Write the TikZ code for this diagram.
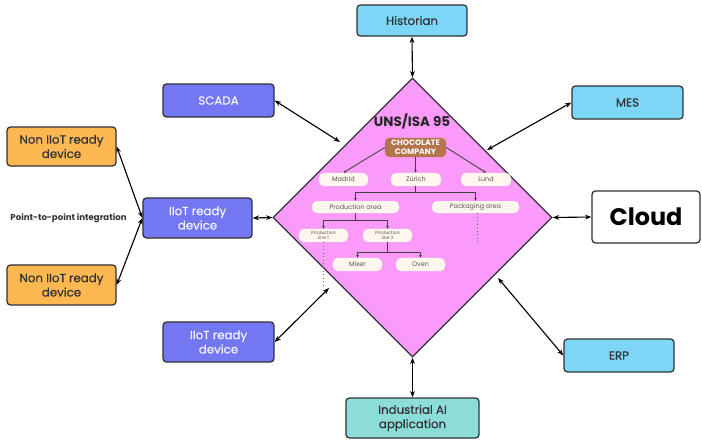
\documentclass[tikz,border=0pt]{standalone}
\usepackage{fontspec}
\setmainfont{Poppins}
\newfontfamily\boxfont{Poppins}[FakeBold=0.35]
\usetikzlibrary{shapes.geometric,arrows.meta}

\definecolor{unspink}{RGB}{250,155,250}
\definecolor{deepblue}{RGB}{115,120,242}
\definecolor{skyblue}{RGB}{125,214,245}
\definecolor{amber}{RGB}{253,184,82}
\definecolor{teal}{RGB}{140,221,216}
\definecolor{cocoa}{RGB}{181,117,76}
\definecolor{cream}{RGB}{255,247,237}
\definecolor{inkgrey}{RGB}{50,50,55}
\definecolor{treetext}{RGB}{85,85,90}

\tikzset{
  sysbox/.style={draw=inkgrey, line width=0.9pt, rounded corners=2.5pt, inner sep=1pt,
    align=center, font=\boxfont\fontsize{8.4}{10.2}\selectfont},
  bluebox/.style={sysbox, fill=deepblue, text=white!92!deepblue},
  lightbox/.style={sysbox, fill=skyblue, text=inkgrey},
  orangebox/.style={sysbox, fill=amber, text=inkgrey},
  tealbox/.style={sysbox, fill=teal, text=inkgrey},
  link/.style={line width=0.8pt, black, {Stealth[length=4.5pt,width=3.4pt]}-{Stealth[length=4.5pt,width=3.4pt]}},
  pill/.style={fill=cream, rounded corners=3.5pt, inner sep=0pt, align=center,
    text=treetext, font=\fontsize{4.6}{5}\selectfont},
  tinypill/.style={pill, font=\fontsize{3.2}{3.6}\selectfont},
  branch/.style={line width=0.6pt, black!75, -{Stealth[length=2pt,width=2pt]}},
  trail/.style={line width=0.5pt, black!60, dotted}
}

\begin{document}
\begin{tikzpicture}[x=0.025cm, y=-0.025cm]
\useasboundingbox (0,0) rectangle (702,440);

% central namespace diamond
\node[diamond, draw=inkgrey, line width=0.9pt, fill=unspink, inner sep=0pt,
      minimum width=6.975cm, minimum height=6.975cm, aspect=1] (uns) at (412.5,217.5) {};

% surrounding systems
\node[lightbox, minimum width=2.75cm, minimum height=0.775cm] (historian) at (412,20.5) {Historian};
\node[bluebox, minimum width=2.775cm, minimum height=0.825cm] (scada) at (218.5,100.5) {SCADA};
\node[lightbox, minimum width=2.775cm, minimum height=0.825cm] (mes) at (627.5,102.5) {MES};
\node[sysbox, fill=white, text=black, minimum width=2.7cm, minimum height=1.3cm,
      font=\fontsize{17}{19}\selectfont\bfseries] (cloud) at (646,217) {Cloud};
\node[orangebox, minimum width=2.725cm, minimum height=0.975cm] (nontop) at (61.5,146.5) {Non IIoT ready\\device};
\node[bluebox, minimum width=2.725cm, minimum height=1.0cm] (iiotmid) at (197.5,218) {IIoT ready\\device};
\node[orangebox, minimum width=2.725cm, minimum height=1.0cm] (nonbot) at (61.5,285) {Non IIoT ready\\device};
\node[bluebox, minimum width=2.775cm, minimum height=1.0cm] (iiotbot) at (218.5,342) {IIoT ready\\device};
\node[tealbox, minimum width=3.325cm, minimum height=1.0cm] (ai) at (412.5,418) {Industrial AI\\application};
\node[lightbox, minimum width=2.75cm, minimum height=0.825cm] (erp) at (619,355.5) {ERP};

\node[text=inkgrey, font=\fontsize{6.1}{7}\selectfont\bfseries, inner sep=0pt] (p2p) at (68.5,218) {Point-to-point integration};

% free ends of the diagonal links, just off the diamond edges
\coordinate (scadaend) at (340,142);
\coordinate (mesend) at (487,150);
\coordinate (erpend) at (498,278);
\coordinate (iiotend) at (329,288);

% links
\draw[link] (historian.south) -- (uns.north);
\draw[link] (ai.north) -- (uns.south);
\draw[link] (uns.east) -- (cloud.west);
\draw[link] (iiotmid.east) -- (uns.west);
\draw[link] (scada.east) -- (scadaend);
\draw[link] (mes.west) -- (mesend);
\draw[link] (erp.west) -- (erpend);
\draw[link] (iiotbot.east) -- (iiotend);
\draw[link] (nontop.east) -- (iiotmid.west);
\draw[link] (nonbot.east) -- (iiotmid.west);

% ISA-95 hierarchy inside the diamond
\node[font=\fontsize{9.6}{11}\selectfont\bfseries, text=black!85, inner sep=0pt] (title) at (412,121) {UNS/ISA 95};
\node[fill=cocoa, rounded corners=3pt, inner sep=0pt, minimum width=1.525cm, minimum height=0.475cm,
      text=white, align=center, font=\fontsize{5.6}{6.2}\selectfont\bfseries] (company) at (415.5,147.5) {CHOCOLATE\\COMPANY};

\node[pill, minimum width=1.225cm, minimum height=0.33cm] (madrid) at (343.5,179.5) {Madrid};
\node[pill, minimum width=1.25cm, minimum height=0.33cm] (zurich) at (416,179.5) {Zürich};
\node[pill, minimum width=1.25cm, minimum height=0.33cm] (lund) at (486,179.5) {Lund};

\node[pill, minimum width=2.175cm, minimum height=0.3cm] (prodarea) at (355.5,207) {Production area};
\node[pill, minimum width=2.175cm, minimum height=0.3cm] (packarea) at (475.5,207) {Packaging area};

\node[tinypill, minimum width=1.225cm, minimum height=0.33cm] (line1) at (323.5,235.5) {Production\\line 1};
\node[tinypill, minimum width=1.225cm, minimum height=0.33cm] (line2) at (387.5,235.5) {Production\\line 2};

\node[pill, minimum width=1.225cm, minimum height=0.33cm] (mixer) at (357.5,264.5) {Mixer};
\node[pill, minimum width=1.225cm, minimum height=0.33cm] (oven) at (420.5,264.5) {Oven};

\draw[branch] (company.west) -- (madrid.north);
\draw[branch] (company.east) -- (lund.north);
\draw[branch] (company.south) -- (zurich.north -| company.south);

\draw[line width=0.6pt, black!75] (zurich.south -| company.south) -- (415.5,192);
\draw[branch] (415.5,192) -| (prodarea.north);
\draw[branch] (415.5,192) -| (packarea.north);

\draw[line width=0.6pt, black!75] (prodarea.south) -- (355.5,220);
\draw[branch] (355.5,220) -| (line1.north);
\draw[branch] (355.5,220) -| (line2.north);

\draw[line width=0.6pt, black!75] (line2.south) -- (387.5,252);
\draw[branch] (387.5,252) -| (mixer.north);
\draw[branch] (387.5,252) -| (oven.north);

\coordinate (line1tail) at (323.5,287);
\coordinate (packtail) at (477,244);
\draw[trail] (line1.south) -- (line1tail);
\draw[trail] (packarea.south -| packtail) -- (packtail);

\end{tikzpicture}
\end{document}
